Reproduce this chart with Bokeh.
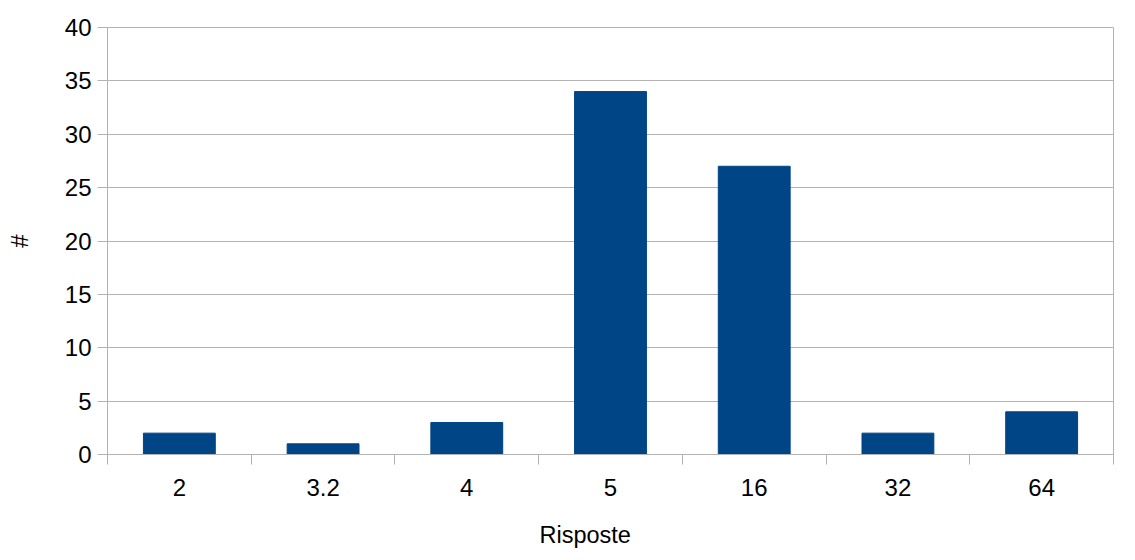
from bokeh.plotting import figure
from bokeh.models import Range1d, FixedTicker, CustomJSTickFormatter, ColumnDataSource, Title
from bokeh.embed import file_html
from bokeh.resources import INLINE

categories = ["2", "3.2", "4", "5", "16", "32", "64"]
counts = [2, 1, 3, 34, 27, 2, 4]
y_ticks = [0, 5, 10, 15, 20, 25, 30, 35, 40]
x_title = "Risposte"
y_title = "#"

BAR = "#004586"
GRID = "#b3b3b3"
FONT = "Liberation Sans"

centers = [i + 0.5 for i in range(len(categories))]
bounds = list(range(len(categories) + 1))
src = ColumnDataSource(dict(x=centers, top=counts, cat=categories))

p = figure(frame_width=1006, frame_height=427, output_backend="svg", toolbar_location=None,
           x_range=Range1d(0, len(categories)), y_range=Range1d(0, 40),
           min_border_left=107, min_border_right=14, min_border_top=27, min_border_bottom=80)

p.vbar(x="x", top="top", width=0.5, source=src, fill_color=BAR, line_color=BAR)

p.outline_line_color = GRID
p.xgrid.visible = False
p.ygrid.grid_line_color = GRID
p.ygrid.ticker = FixedTicker(ticks=y_ticks)

xa = p.xaxis[0]
xa.ticker = FixedTicker(ticks=centers, minor_ticks=bounds)
xa.formatter = CustomJSTickFormatter(args=dict(cats=categories), code="return cats[Math.floor(tick)];")
xa.major_tick_out = 0
xa.major_tick_in = 0
xa.minor_tick_out = 10
xa.minor_tick_in = 0
xa.minor_tick_line_color = GRID
xa.axis_line_color = GRID
xa.major_label_standoff = 14

ya = p.yaxis[0]
ya.ticker = FixedTicker(ticks=y_ticks)
ya.major_tick_out = 10
ya.major_tick_in = 0
ya.minor_tick_line_color = None
ya.major_tick_line_color = GRID
ya.axis_line_color = GRID
ya.major_label_standoff = 6
ya.axis_label = y_title
ya.axis_label_standoff = 29
ya.axis_label_text_font = FONT
ya.axis_label_text_font_size = "24px"
ya.axis_label_text_font_style = "normal"
ya.axis_label_text_color = "black"

for ax in (xa, ya):
    ax.major_label_text_font = FONT
    ax.major_label_text_font_size = "24px"
    ax.major_label_text_color = "black"

p.add_layout(Title(text=x_title, align="left", offset=432, vertical_align="top", standoff=46,
                   text_font=FONT, text_font_size="23.5px", text_font_style="normal",
                   text_color="black"), "below")

open("out.html", "w").write(file_html(p, INLINE))
